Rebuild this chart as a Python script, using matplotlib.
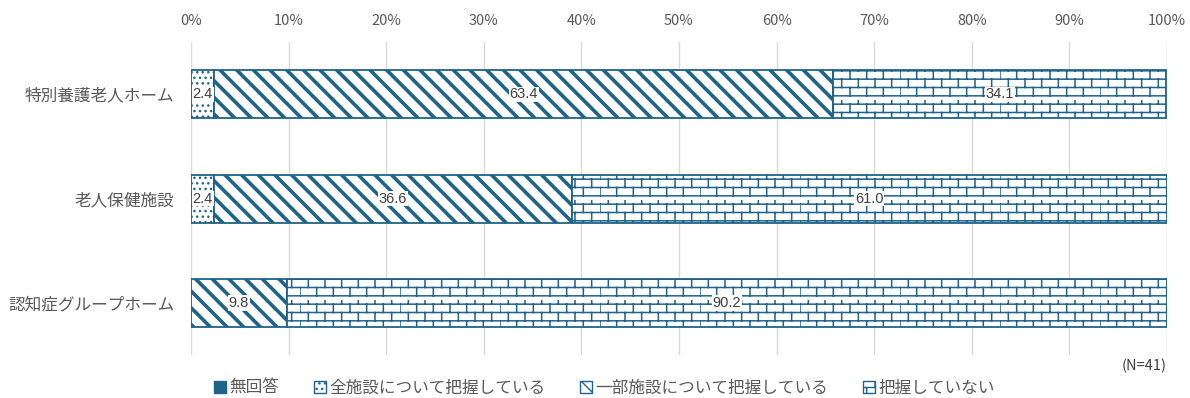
import warnings
import numpy as np
import matplotlib
matplotlib.use('Agg')
import matplotlib.pyplot as plt
import matplotlib.hatch as mhatch
from matplotlib.path import Path
from matplotlib.patches import Patch

warnings.filterwarnings('ignore')

# data
categories = ['特別養護老人ホーム', '老人保健施設', '認知症グループホーム']
series_names = ['無回答', '全施設について把握している', '一部施設について把握している', '把握していない']
no_answer = [0.0, 0.0, 0.0]
all_known = [2.4, 2.4, 0.0]
some_known = [63.4, 36.6, 9.8]
not_known = [34.1, 61.0, 90.2]
xticks = [0, 10, 20, 30, 40, 50, 60, 70, 80, 90, 100]


# brick hatch, not built into matplotlib
class Bricks(mhatch.HatchPatternBase):
    def __init__(self, hatch, density):
        n = hatch.count('b')
        self.rows = 12 * n
        self.cols = 6
        self.num_vertices = (self.rows + self.rows * self.cols) * 2 if n else 0

    def set_vertices_and_codes(self, vertices, codes):
        k = 0
        h = 1.0 / self.rows
        w = 1.0 / self.cols
        for i in range(self.rows):
            y = (i + 0.5) * h
            vertices[k] = (0, y)
            vertices[k + 1] = (1, y)
            k += 2
            off = 0 if i % 2 == 0 else w / 2
            for j in range(self.cols):
                x = off + j * w
                vertices[k] = (x, y)
                vertices[k + 1] = (x, y + h)
                k += 2
        codes[0::2] = Path.MOVETO
        codes[1::2] = Path.LINETO


mhatch._hatch_types.append(Bricks)

plt.rcParams['font.family'] = ['Noto Sans CJK JP', 'DejaVu Sans']
C = '#1F6388'
plt.rcParams['hatch.color'] = C

styles = [
    dict(color=C, hatch=None, hlw=1.0),
    dict(color='white', hatch='...', hlw=1.0),
    dict(color='white', hatch='\\\\', hlw=2.6),
    dict(color='white', hatch='b', hlw=1.1),
]
series = [no_answer, all_known, some_known, not_known]

fig = plt.figure(figsize=(11.9, 3.98), dpi=100)
ax = fig.add_axes([0.1605, 0.108, 0.8202, 0.786])

y = np.arange(len(categories))
left = np.zeros(len(categories))
for vals, st in zip(series, styles):
    vals = np.array(vals)
    with plt.rc_context({'hatch.linewidth': st['hlw']}):
        bars = ax.barh(y, vals, left=left, height=0.46, color=st['color'],
                       edgecolor=C, linewidth=1.3, hatch=st['hatch'], zorder=2)
        for b in bars:
            if hasattr(b, 'set_hatch_linewidth'):
                b.set_hatch_linewidth(st['hlw'])
    for yi, v, l in zip(y, vals, left):
        if v > 0:
            ax.text(l + v / 2, yi, f'{v:.1f}', ha='center', va='center',
                    fontsize=10.5, color='#404040', zorder=3,
                    family=['Liberation Sans', 'DejaVu Sans'],
                    bbox=dict(facecolor='white', edgecolor='none', pad=0.5))
    left = left + vals

ax.set_xlim(0, 100)
ax.set_ylim(2.5, -0.5)
ax.set_xticks(xticks)
ax.set_xticklabels([f'{t}%' for t in xticks])
ax.xaxis.tick_top()
ax.tick_params(axis='x', length=0, pad=10, labelsize=10.5, labelcolor='#595959')
ax.set_yticks(y)
ax.set_yticklabels(categories)
ax.tick_params(axis='y', length=0, pad=12, labelsize=12, labelcolor='#595959')
for s in ax.spines.values():
    s.set_visible(False)
ax.grid(axis='x', color='#D9D9D9', linewidth=1)
ax.set_axisbelow(True)

handles = []
for name, st in zip(series_names, styles):
    handles.append(Patch(facecolor=st['color'], edgecolor=C, hatch=st['hatch'],
                         linewidth=1.0, label=name))
fig.legend(handles=handles, loc='center', bbox_to_anchor=(0.508, 0.025), ncol=4,
           frameon=False, fontsize=12, handlelength=0.7, handleheight=0.7,
           handletextpad=0.2, columnspacing=2.1, labelcolor='#595959')

fig.text(0.9807, 0.0804, '(N=41)', ha='right', va='center', fontsize=10.5, color='#404040')

fig.savefig('out.png', dpi=100)
